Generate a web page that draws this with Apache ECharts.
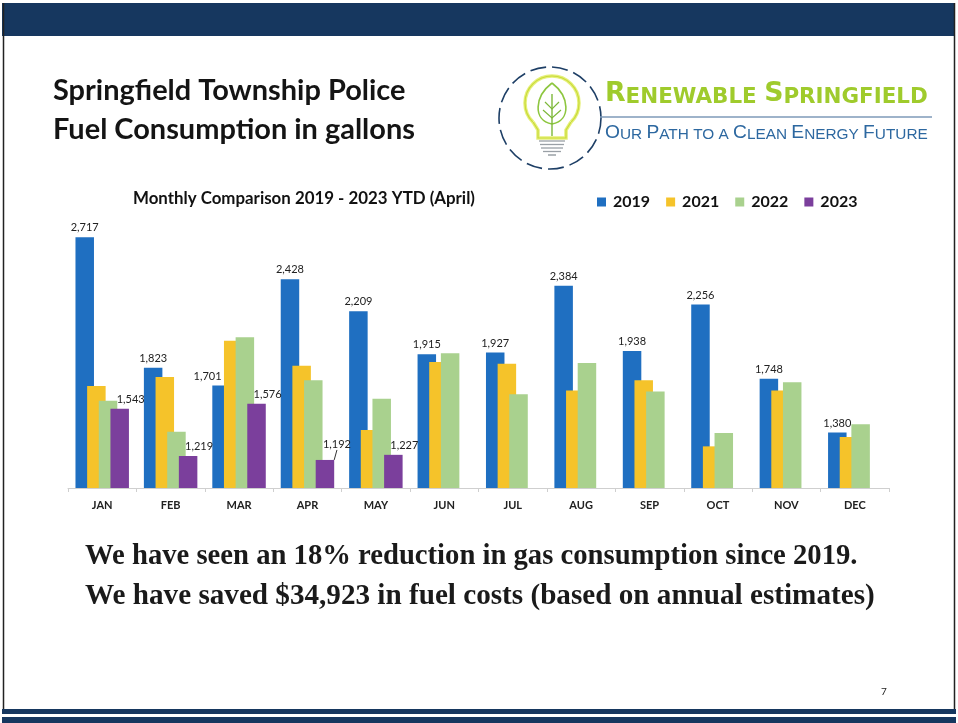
<!DOCTYPE html>
<html>
<head>
<meta charset="utf-8">
<script src="https://cdn.jsdelivr.net/npm/echarts@6/dist/echarts.min.js"></script>
<style>
html,body{margin:0;padding:0;background:#fff;}
#chart{width:958px;height:723px;}
</style>
</head>
<body>
<div id="chart"></div>
<script>
// ---- data ----
const months = ['JAN','FEB','MAR','APR','MAY','JUN','JUL','AUG','SEP','OCT','NOV','DEC'];
const seriesNames = ['2019','2021','2022','2023'];
const y2019 = [2717,1823,1701,2428,2209,1915,1927,2384,1938,2256,1748,1380];
const y2021 = [1698,1759,2007,1837,1397,1862,1850,1668,1737,1285,1668,1349];
const y2022 = [1597,1385,2031,1737,1611,1923,1641,1855,1661,1376,1723,1436];
const y2023 = [1543,1219,1576,1192,1227,null,null,null,null,null,null,null];
const titleLines = ['Springfield Township Police','Fuel Consumption in gallons'];
const chartTitle = 'Monthly Comparison 2019 - 2023 YTD (April)';
const noteLines = ['We have seen an 18% reduction in gas consumption since 2019.',
                   'We have saved $34,923 in fuel costs (based on annual estimates)'];

const colors = ['#1F6FC1','#F5C32A','#A9D18E','#7B3F9C'];

const ctx = document.createElement('canvas').getContext('2d');
function fit(text, weight, family, target){
  ctx.font = weight + ' 100px ' + family;
  return 100 * target / ctx.measureText(text).width;
}
function fitParts(parts, weight, family, target){
  let w = 0;
  parts.forEach(p => { ctx.font = weight + ' ' + (100*p[1]) + 'px ' + family; w += ctx.measureText(p[0]).width; });
  return 100 * target / w;
}
const fmt = v => (v == null ? '' : Number(v).toLocaleString('en-US'));

const titleSize = Math.min(fit(titleLines[0],'bold','Lato',360), fit(titleLines[1],'bold','Lato',362));
const chartTitleSize = fit(chartTitle,'bold','Lato',342);
const note1Size = fit(noteLines[0],'bold','"Liberation Serif"',773);
const note2Size = fit(noteLines[1],'bold','"Liberation Serif"',790);

const brandParts = [['R',1],['ENEWABLE ',0.8],['S',1],['PRINGFIELD',0.8]];
const brandBase = fitParts(brandParts,'bold','"DejaVu Sans"',323);
const tagParts = [['O',1],['UR ',0.8],['P',1],['ATH TO A ',0.8],['C',1],['LEAN ',0.8],['E',1],['NERGY ',0.8],['F',1],['UTURE',0.8]];
const tagBase = fitParts(tagParts,'normal','"Liberation Sans"',323);

function richText(parts){
  return parts.map(p => '{' + (p[1] === 1 ? 'b' : 's') + '|' + p[0] + '}').join('');
}

const chart = echarts.init(document.getElementById('chart'), null, {renderer:'canvas'});

const navy = '#16375F';
const bulbCx = 552, bulbCy = 103, bulbR = 27;
const graphics = [
  // page frame
  {type:'rect', shape:{x:2, y:3, width:953, height:33}, style:{fill:navy}, silent:true},
  {type:'line', shape:{x1:3.5, y1:3, x2:3.5, y2:712}, style:{stroke:'#222', lineWidth:1.5}},
  {type:'line', shape:{x1:954.5, y1:3, x2:954.5, y2:712}, style:{stroke:'#222', lineWidth:1.5}},
  {type:'rect', shape:{x:2, y:709, width:954, height:5}, style:{fill:navy}},
  {type:'rect', shape:{x:2, y:717, width:954, height:6}, style:{fill:navy}},
  // titles
  {type:'text', style:{text:titleLines[0], x:53, y:100 - 0.33*titleSize, fontFamily:'Lato', fontWeight:'bold', fontSize:titleSize, fill:'#141414', align:'left', verticalAlign:'middle'}},
  {type:'text', style:{text:titleLines[1], x:53, y:139.5 - 0.33*titleSize, fontFamily:'Lato', fontWeight:'bold', fontSize:titleSize, fill:'#141414', align:'left', verticalAlign:'middle'}},
  {type:'text', style:{text:chartTitle, x:133, y:199, fontFamily:'Lato', fontWeight:'bold', fontSize:chartTitleSize, fill:'#111', align:'left', verticalAlign:'middle'}},
  // notes
  {type:'text', style:{text:noteLines[0], x:85, y:565 - 0.3*note1Size, fontFamily:'"Liberation Serif"', fontWeight:'bold', fontSize:note1Size, fill:'#1a1a1a', align:'left', verticalAlign:'middle'}},
  {type:'text', style:{text:noteLines[1], x:85, y:605 - 0.3*note2Size, fontFamily:'"Liberation Serif"', fontWeight:'bold', fontSize:note2Size, fill:'#1a1a1a', align:'left', verticalAlign:'middle'}},
  {type:'text', style:{text:'7', x:884, y:692, fontFamily:'Lato', fontSize:10, fill:'#222', align:'center', verticalAlign:'middle'}},
  // logo circle
  {type:'circle', shape:{cx:550, cy:118, r:51}, style:{fill:'none', stroke:'#1E3F66', lineWidth:1.6, lineDash:[16,6]}},
  // bulb glow + outline
  {type:'arc', shape:{cx:bulbCx, cy:bulbCy, r:bulbR, startAngle:Math.PI*0.75, endAngle:Math.PI*0.25, clockwise:true}, style:{stroke:'#E6F07A', lineWidth:3.5, fill:'none'}},
  {type:'arc', shape:{cx:bulbCx, cy:bulbCy, r:bulbR, startAngle:Math.PI*0.75, endAngle:Math.PI*0.25, clockwise:true}, style:{stroke:'#C9DB3A', lineWidth:1.2, fill:'none'}},
  {type:'polyline', shape:{points:[[533,122],[538,130],[538,138],[566,138],[566,130],[571,122]]}, style:{stroke:'#E6F07A', lineWidth:3.5, fill:'none'}},
  {type:'polyline', shape:{points:[[533,122],[538,130],[538,138],[566,138],[566,130],[571,122]]}, style:{stroke:'#C9DB3A', lineWidth:1.2, fill:'none'}},
  // bulb base lines
  {type:'line', shape:{x1:539, y1:141, x2:565, y2:141}, style:{stroke:'#9AA0A6', lineWidth:1.3}},
  {type:'line', shape:{x1:540, y1:144.5, x2:564, y2:144.5}, style:{stroke:'#9AA0A6', lineWidth:1.3}},
  {type:'line', shape:{x1:541, y1:148, x2:563, y2:148}, style:{stroke:'#9AA0A6', lineWidth:1.3}},
  {type:'line', shape:{x1:543, y1:151.5, x2:561, y2:151.5}, style:{stroke:'#9AA0A6', lineWidth:1.3}},
  {type:'line', shape:{x1:548, y1:155, x2:556, y2:155}, style:{stroke:'#9AA0A6', lineWidth:1.5}},
  // leaf
  {type:'bezierCurve', shape:{x1:552, y1:83, x2:552, y2:124, cpx1:535, cpy1:96, cpx2:532, cpy2:120}, style:{fill:'none', stroke:'#8DC63F', lineWidth:1.6}},
  {type:'bezierCurve', shape:{x1:552, y1:83, x2:552, y2:124, cpx1:569, cpy1:96, cpx2:572, cpy2:120}, style:{fill:'none', stroke:'#8DC63F', lineWidth:1.6}},
  {type:'line', shape:{x1:552, y1:94, x2:552, y2:136}, style:{stroke:'#7DB83A', lineWidth:1.4}},
  {type:'polyline', shape:{points:[[545,102],[552,109],[559,102]]}, style:{fill:'none', stroke:'#7DB83A', lineWidth:1.2}},
  {type:'polyline', shape:{points:[[543,110],[552,118],[561,110]]}, style:{fill:'none', stroke:'#7DB83A', lineWidth:1.2}},
  // brand text
  {type:'text', style:{text:richText(brandParts), x:605, y:108, align:'left', verticalAlign:'bottom',
    rich:{b:{fontFamily:'"DejaVu Sans"', fontWeight:'bold', fontSize:brandBase, fill:'#9FCB2C', verticalAlign:'bottom'},
          s:{fontFamily:'"DejaVu Sans"', fontWeight:'bold', fontSize:brandBase*0.8, fill:'#9FCB2C', verticalAlign:'bottom'}}}},
  {type:'line', shape:{x1:600, y1:117, x2:932, y2:117}, style:{stroke:'#7E9AB8', lineWidth:1.5}},
  {type:'text', style:{text:richText(tagParts), x:605, y:142, align:'left', verticalAlign:'bottom',
    rich:{b:{fontFamily:'"Liberation Sans"', fontSize:tagBase, fill:'#2D68A0', verticalAlign:'bottom'},
          s:{fontFamily:'"Liberation Sans"', fontSize:tagBase*0.8, fill:'#2D68A0', verticalAlign:'bottom'}}}}
];

const barW = 18.5;
const labelBase = {fontFamily:'Lato', fontSize:11, color:'#222'};

const option = {
  animation:false,
  backgroundColor:'#fff',
  color: colors,
  graphic: graphics,
  legend: {
    left: 592, top: 189,
    itemWidth: 9, itemHeight: 9, itemGap: 16,
    icon: 'rect',
    data: seriesNames,
    textStyle: {fontFamily:'Lato', fontWeight:'bold', fontSize:16, color:'#111', padding:[0,0,0,2]}
  },
  grid: {left:68, right:69, top:225, bottom:235, containLabel:false},
  xAxis: {
    type:'category', data: months,
    axisLine:{show:true, lineStyle:{color:'#CFCFCF', width:1}},
    axisTick:{show:true, length:4, lineStyle:{color:'#CFCFCF'}},
    axisLabel:{fontFamily:'Lato', fontWeight:'bold', fontSize:11, color:'#222', margin:12}
  },
  yAxis: {type:'value', min:1000, max:2800, show:false, splitLine:{show:false}},
  series: [
    {name:'2019', type:'bar', barWidth:barW, barGap:'-37%',
     data: y2019.map((v,i) => i === 2 ? {value:v, label:{offset:[-14,0]}} : v),
     label:{show:true, position:'top', distance:4, formatter:p => fmt(p.value), ...labelBase}},
    {name:'2021', type:'bar', barWidth:barW, barGap:'-37%', data:y2021},
    {name:'2022', type:'bar', barWidth:barW, barGap:'-37%', data:y2022},
    {name:'2023', type:'bar', barWidth:barW, barGap:'-37%',
     data: y2023.map((v,i) => i === 3 ? {value:v, labelLine:{show:true}} : v),
     label:{show:true, position:'top', distance:4, formatter:p => fmt(p.value), ...labelBase},
     labelLayout: function(params){ return params.dataIndex === 3 ? {dx:12, dy:-6} : {dx:11, dy:0}; },
     labelLine:{show:false, lineStyle:{color:'#333', width:1}}}
  ]
};
chart.setOption(option);
</script>
</body>
</html>
